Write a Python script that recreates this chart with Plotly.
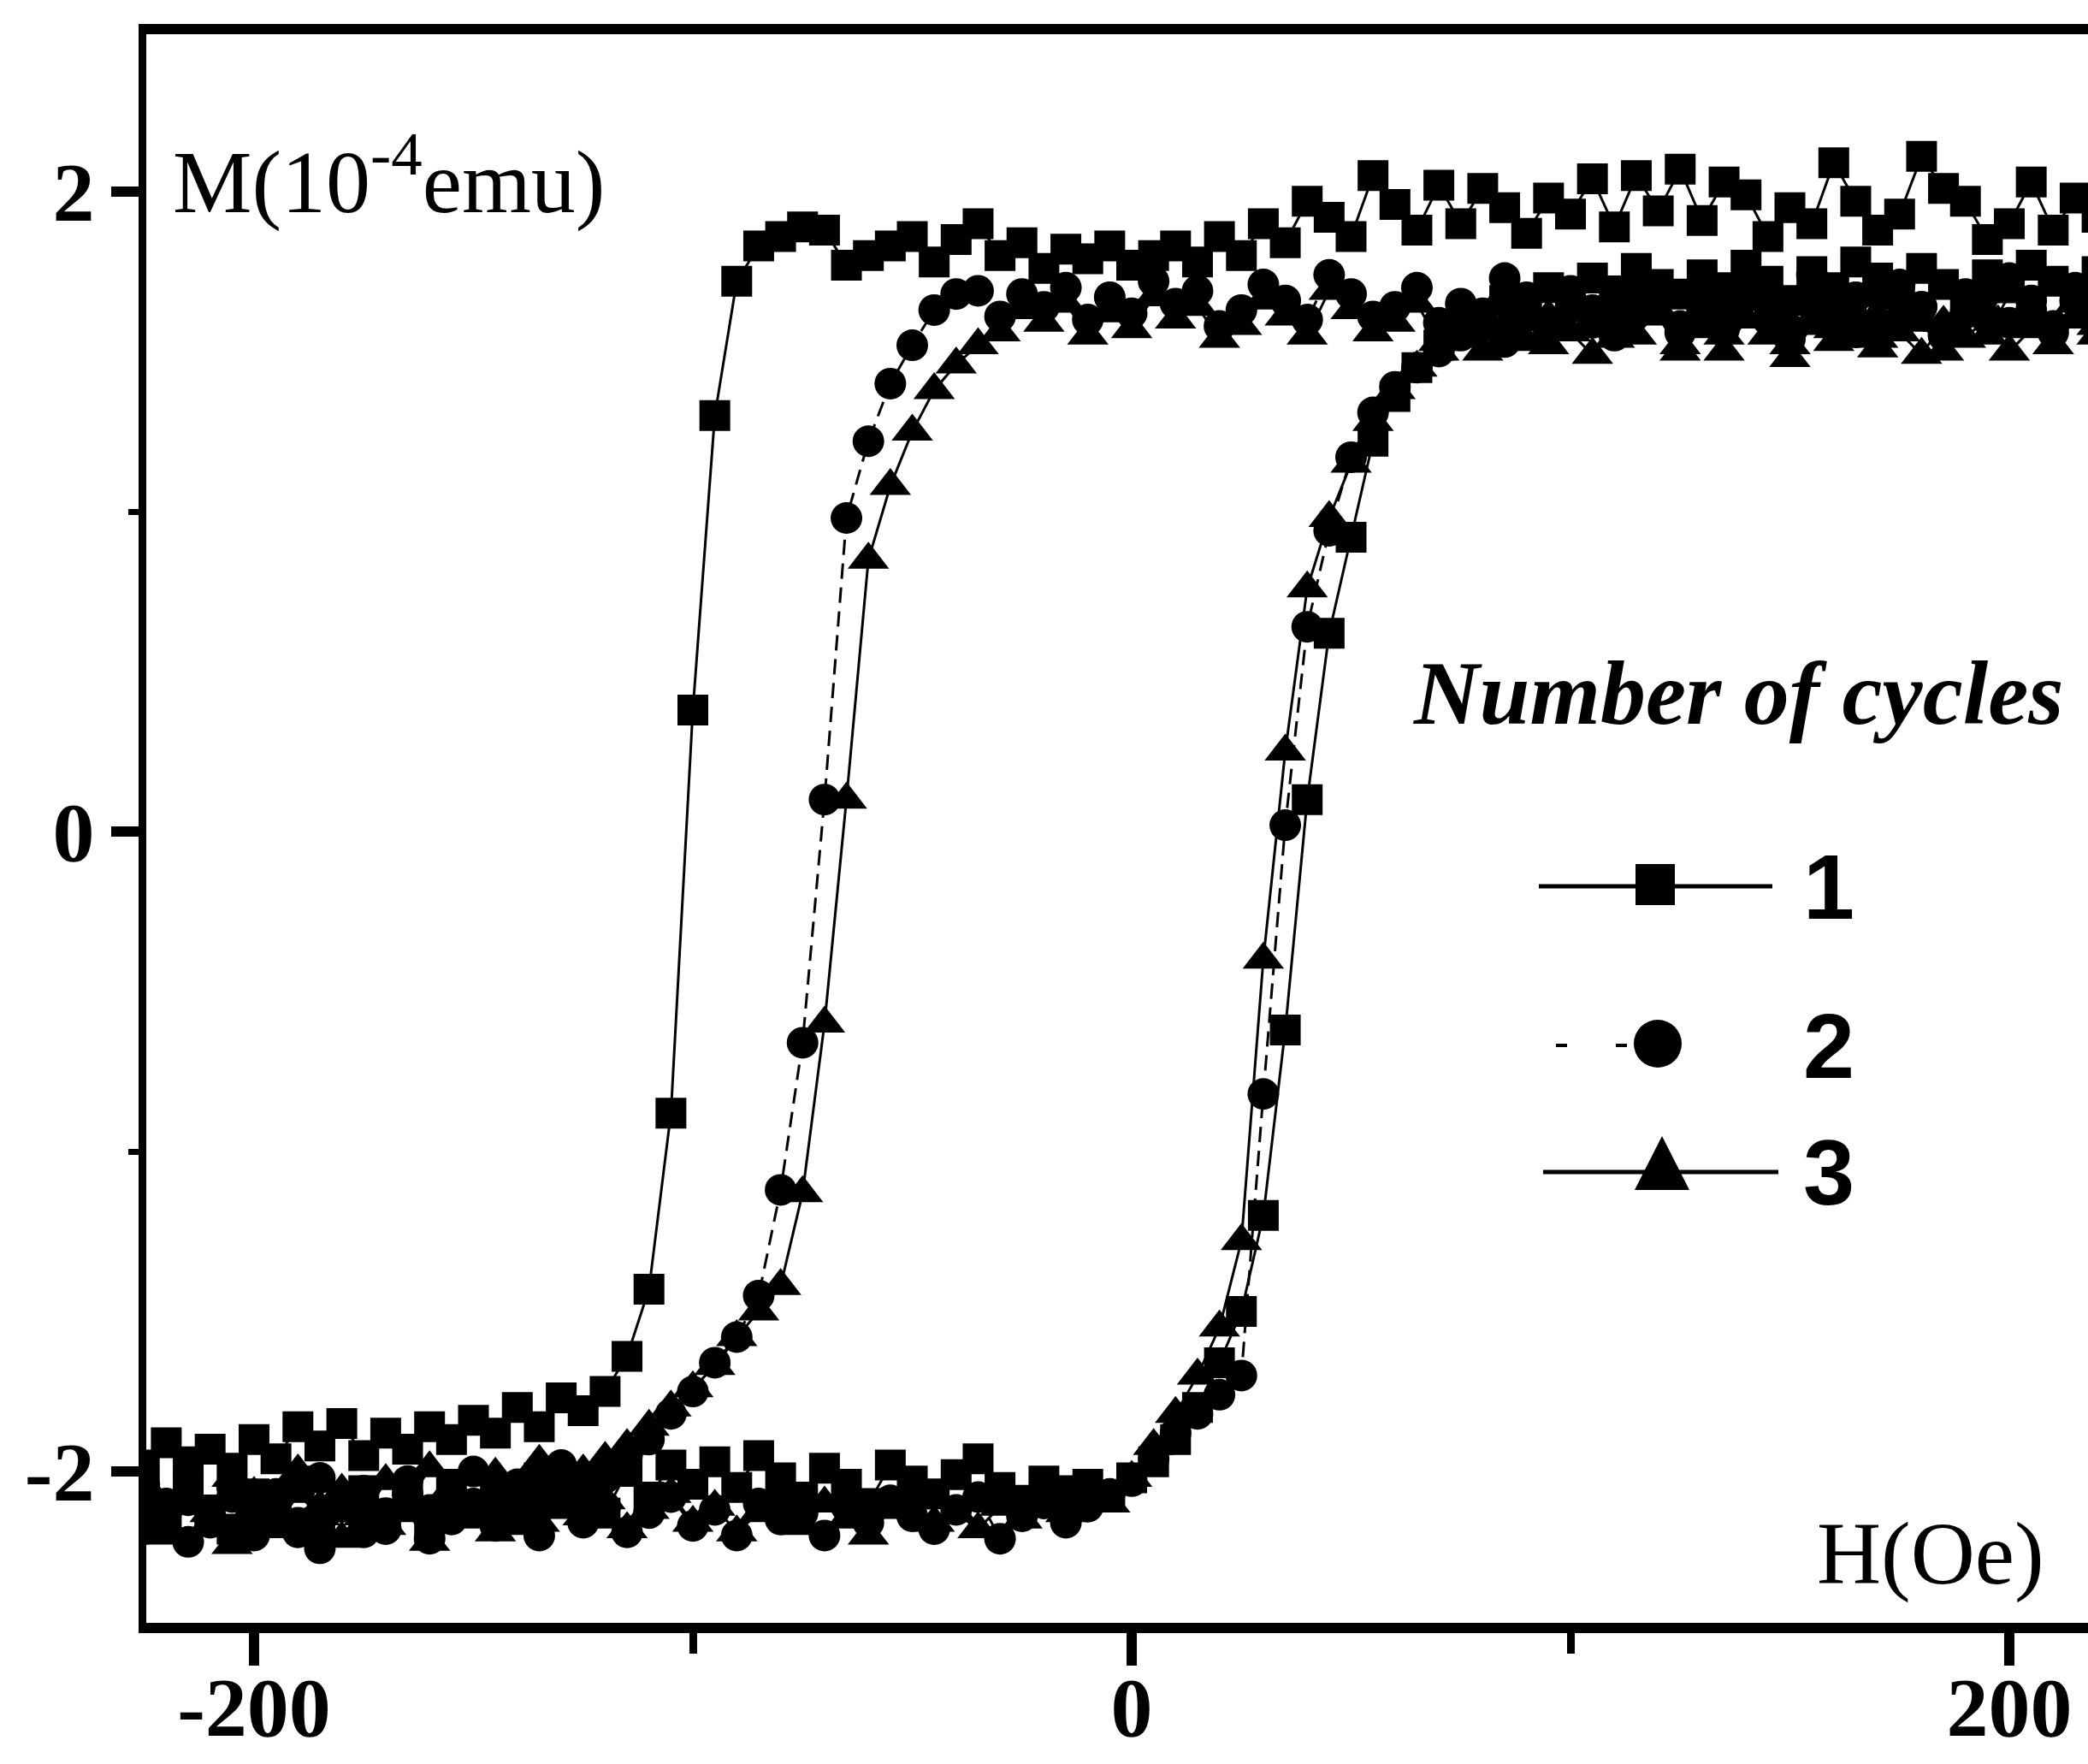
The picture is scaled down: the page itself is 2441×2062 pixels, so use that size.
import plotly.graph_objects as go

# Field sweep (Oe): descending branch then ascending branch
H_down = [220, 215, 210, 205, 200, 195, 190, 185, 180, 175,
          170, 165, 160, 155, 150, 145, 140, 135, 130, 125,
          120, 115, 110, 105, 100, 95, 90, 85, 80, 75,
          70, 65, 60, 55, 50, 45, 40, 35, 30, 25,
          20, 15, 10, 5, 0, -5, -10, -15, -20, -25,
          -30, -35, -40, -45, -50, -55, -60, -65, -70, -75,
          -80, -85, -90, -95, -100, -105, -110, -115, -120, -125,
          -130, -135, -140, -145, -150, -155, -160, -165, -170, -175,
          -180, -185, -190, -195, -200, -205, -210, -215, -220, -225]
H_up = [-225, -220, -215, -210, -205, -200, -195, -190, -185, -180,
        -175, -170, -165, -160, -155, -150, -145, -140, -135, -130,
        -125, -120, -115, -110, -105, -100, -95, -90, -85, -80,
        -75, -70, -65, -60, -55, -50, -45, -40, -35, -30,
        -25, -20, -15, -10, -5, 0, 5, 10, 15, 20,
        25, 30, 35, 40, 45, 50, 55, 60, 65, 70,
        75, 80, 85, 90, 95, 100, 105, 110, 115, 120,
        125, 130, 135, 140, 145, 150, 155, 160, 165, 170,
        175, 180, 185, 190, 195, 200, 205, 210, 215, 220]

# Cycle 1 (squares)
M1_down = [1.92, 1.98, 1.88, 2.03, 1.90, 1.85, 1.97, 2.01, 2.11, 1.93,
           1.88, 1.97, 2.09, 1.90, 1.95, 1.86, 1.99, 2.03, 1.91, 2.07,
           1.94, 2.05, 1.89, 2.04, 1.93, 1.98, 1.87, 1.95, 2.01, 1.90,
           2.02, 1.88, 1.96, 2.05, 1.86, 1.92, 1.97, 1.84, 1.90, 1.80,
           1.86, 1.78, 1.83, 1.80, 1.77, 1.83, 1.79, 1.82, 1.76, 1.84,
           1.80, 1.90, 1.85, 1.78, 1.86, 1.83, 1.80, 1.77, 1.88, 1.89,
           1.86, 1.83, 1.72, 1.30, 0.38, -0.88, -1.43, -1.64, -1.75, -1.81,
           -1.77, -1.86, -1.80, -1.88, -1.84, -1.90, -1.86, -1.93, -1.88, -1.95,
           -1.85, -1.92, -1.86, -1.96, -1.90, -1.99, -1.93, -1.97, -1.91, -1.98]
M1_up = [-2.08, -2.15, -2.05, -2.12, -2.18, -2.07, -2.13, -2.03, -2.16, -2.10,
         -2.06, -2.14, -2.09, -2.17, -2.04, -2.11, -2.08, -2.15, -2.02, -2.10,
         -2.06, -2.13, -2.00, -2.08, -1.98, -2.04, -1.97, -2.05, -1.95, -2.02,
         -2.08, -1.99, -2.04, -2.10, -1.98, -2.03, -2.07, -2.01, -1.96, -2.05,
         -2.09, -2.03, -2.06, -2.04, -2.08, -2.02, -1.97, -1.90, -1.80, -1.66,
         -1.50, -1.20, -0.62, 0.10, 0.62, 0.92, 1.22, 1.36, 1.45, 1.52,
         1.58, 1.60, 1.66, 1.63, 1.70, 1.67, 1.73, 1.69, 1.76, 1.71,
         1.68, 1.74, 1.70, 1.77, 1.72, 1.66, 1.75, 1.70, 1.78, 1.73,
         1.69, 1.76, 1.71, 1.66, 1.74, 1.70, 1.77, 1.72, 1.68, 1.75]

# Cycle 2 (circles)
M2_down = [1.62, 1.70, 1.58, 1.66, 1.73, 1.60, 1.68, 1.55, 1.64, 1.71,
           1.59, 1.67, 1.62, 1.74, 1.57, 1.65, 1.70, 1.61, 1.68, 1.56,
           1.66, 1.72, 1.60, 1.63, 1.69, 1.58, 1.67, 1.73, 1.62, 1.65,
           1.59, 1.70, 1.64, 1.61, 1.68, 1.74, 1.60, 1.66, 1.71, 1.63,
           1.58, 1.69, 1.65, 1.72, 1.62, 1.67, 1.60, 1.70, 1.64, 1.68,
           1.61, 1.69, 1.68, 1.63, 1.52, 1.40, 1.22, 0.98, 0.10, -0.66,
           -1.12, -1.45, -1.58, -1.66, -1.75, -1.82, -1.90, -1.95, -2.02, -2.08,
           -1.98, -2.10, -2.04, -2.15, -2.00, -2.08, -2.12, -2.03, -2.18, -2.06,
           -2.11, -2.02, -2.19, -2.07, -2.14, -2.05, -2.16, -2.09, -2.13, -2.04]
M2_up = [-2.18, -2.10, -2.22, -2.14, -2.08, -2.20, -2.12, -2.16, -2.24, -2.11,
         -2.19, -2.13, -2.07, -2.21, -2.15, -2.10, -2.17, -2.12, -2.20, -2.09,
         -2.16, -2.11, -2.19, -2.13, -2.08, -2.17, -2.12, -2.20, -2.10, -2.15,
         -2.13, -2.20, -2.11, -2.16, -2.09, -2.14, -2.18, -2.12, -2.08, -2.21,
         -2.14, -2.10, -2.16, -2.11, -2.07, -2.03, -1.96, -1.88, -1.82, -1.76,
         -1.70, -0.82, 0.02, 0.64, 0.94, 1.17, 1.31, 1.39, 1.45, 1.50,
         1.55, 1.58, 1.53, 1.61, 1.57, 1.64, 1.59, 1.55, 1.62, 1.66,
         1.58, 1.63, 1.57, 1.67, 1.60, 1.54, 1.65, 1.61, 1.56, 1.68,
         1.60, 1.64, 1.57, 1.62, 1.69, 1.59, 1.63, 1.56, 1.66, 1.61]

# Cycle 3 (triangles)
M3_down = [1.58, 1.65, 1.52, 1.61, 1.68, 1.55, 1.63, 1.50, 1.59, 1.66,
           1.54, 1.62, 1.57, 1.69, 1.52, 1.60, 1.66, 1.55, 1.63, 1.50,
           1.61, 1.67, 1.54, 1.58, 1.64, 1.52, 1.62, 1.68, 1.56, 1.60,
           1.53, 1.65, 1.59, 1.56, 1.63, 1.69, 1.55, 1.61, 1.66, 1.58,
           1.54, 1.64, 1.60, 1.67, 1.57, 1.62, 1.55, 1.65, 1.59, 1.63,
           1.56, 1.52, 1.46, 1.38, 1.25, 1.08, 0.85, 0.10, -0.60, -1.13,
           -1.42, -1.50, -1.58, -1.67, -1.74, -1.80, -1.86, -1.92, -1.96, -2.00,
           -2.04, -1.97, -2.08, -2.01, -2.12, -2.05, -1.99, -2.10, -2.03, -2.14,
           -2.06, -2.11, -2.00, -2.15, -2.07, -2.02, -2.13, -2.08, -2.17, -2.04]
M3_up = [-2.12, -2.20, -2.09, -2.16, -2.23, -2.11, -2.18, -2.07, -2.14, -2.21,
         -2.10, -2.17, -2.13, -2.22, -2.08, -2.15, -2.19, -2.11, -2.16, -2.06,
         -2.14, -2.09, -2.18, -2.12, -2.07, -2.16, -2.11, -2.19, -2.13, -2.08,
         -2.17, -2.10, -2.15, -2.20, -2.12, -2.09, -2.16, -2.13, -2.18, -2.11,
         -2.15, -2.08, -2.13, -2.06, -2.10, -2.02, -1.92, -1.82, -1.70, -1.55,
         -1.28, -0.40, 0.25, 0.76, 0.98, 1.15, 1.28, 1.38, 1.45, 1.50,
         1.54, 1.50, 1.58, 1.53, 1.61, 1.56, 1.49, 1.59, 1.55, 1.63,
         1.52, 1.57, 1.50, 1.60, 1.55, 1.48, 1.58, 1.53, 1.62, 1.51,
         1.56, 1.49, 1.59, 1.54, 1.61, 1.50, 1.57, 1.52, 1.60, 1.55]

cycle_names = ["1", "2", "3"]
x_ticks = [-200, 0, 200]
x_ticktext = ["-200", "0", "200"]
y_ticks = [-2, 0, 2]
y_ticktext = ["-2", "0", "2"]

series = [
    (cycle_names[0], M1_down, M1_up, "square", 36, "solid"),
    (cycle_names[1], M2_down, M2_up, "circle", 37, "18px,10px"),
    (cycle_names[2], M3_down, M3_up, "triangle-up", 42, "solid"),
]

fig = go.Figure()
for name, md, mu, sym, sz, dash in series:
    fig.add_trace(go.Scatter(
        x=H_down + H_up, y=md + mu, name=name, mode="lines+markers",
        line=dict(color="black", width=3, dash=dash),
        marker=dict(symbol=sym, size=sz, color="black", line=dict(width=0)),
    ))

tickfont = dict(family="Liberation Serif", size=98, color="black", weight="bold")
fig.update_xaxes(
    range=[-224.56, 217.93], tickmode="array", tickvals=x_ticks, ticktext=x_ticktext,
    ticks="outside", ticklen=38, tickwidth=12, tickcolor="black", ticklabelstandoff=-36,
    showline=True, linewidth=12, linecolor="black", mirror=True, automargin=False,
    showgrid=False, zeroline=False, tickfont=tickfont,
    minor=dict(tickmode="array", tickvals=[-100, 100], ticks="outside",
               ticklen=24, tickwidth=9, tickcolor="black", showgrid=False),
)
fig.update_yaxes(
    range=[-2.473, 2.492], tickmode="array", tickvals=y_ticks, ticktext=y_ticktext,
    ticks="outside", ticklen=32, tickwidth=12, tickcolor="black",
    showline=True, linewidth=9, linecolor="black", mirror=False, automargin=False,
    showgrid=False, zeroline=False, tickfont=tickfont,
    minor=dict(tickmode="array", tickvals=[-1, 1], ticks="outside",
               ticklen=12, tickwidth=7, tickcolor="black", showgrid=False),
)

L, T, W, Hh = 171, 40, 2270, 1857
def px(x):
    return (x - L) / W
def py(y):
    return (T + Hh - y) / Hh

legend_rows = [1036, 1222, 1370]

annotations = [
    dict(text="M(10<sup>-4</sup>emu)", x=px(200), y=py(205), xanchor="left", yanchor="middle",
         font=dict(family="Liberation Serif", size=104, color="black")),
    dict(text="H(Oe)", x=px(2392), y=py(1816), xanchor="right", yanchor="middle",
         font=dict(family="Liberation Serif", size=104, color="black")),
    dict(text="Number of cycles", x=px(1650), y=py(810), xanchor="left", yanchor="middle",
         font=dict(family="Liberation Serif", size=106, color="black", weight="bold", style="italic")),
]
for lab, yy in zip(cycle_names, legend_rows):
    annotations.append(dict(text=lab, x=px(2106), y=py(yy), xanchor="left", yanchor="middle",
                            font=dict(family="Liberation Sans", size=108, color="black", weight="bold")))
for a in annotations:
    a.update(xref="paper", yref="paper", showarrow=False)

r1, r2, r3 = legend_rows
shapes = [
    dict(type="line", x0=px(1799), x1=px(2072), y0=py(r1), y1=py(r1),
         line=dict(color="black", width=5)),
    dict(type="rect", xsizemode="pixel", ysizemode="pixel", xanchor=px(1935), yanchor=py(r1 - 2),
         x0=-23, x1=23, y0=-24, y1=24, fillcolor="black", line=dict(width=0)),
    dict(type="line", x0=px(1819), x1=px(1905), y0=py(r2), y1=py(r2),
         line=dict(color="black", width=4, dash="13px,57px")),
    dict(type="circle", xsizemode="pixel", ysizemode="pixel", xanchor=px(1938), yanchor=py(r2 - 2),
         x0=-28, x1=28, y0=-28, y1=28, fillcolor="black", line=dict(width=0)),
    dict(type="line", x0=px(1804), x1=px(2079), y0=py(r3), y1=py(r3),
         line=dict(color="black", width=5)),
    dict(type="path", xsizemode="pixel", ysizemode="pixel", xanchor=px(1943), yanchor=py(r3),
         path="M-32,-21 L32,-21 L0,42 Z", fillcolor="black", line=dict(width=0)),
]
for s in shapes:
    s.update(xref="paper", yref="paper")

fig.update_layout(
    width=2441, height=2062, margin=dict(l=L, r=0, t=T, b=2062 - T - Hh, autoexpand=False),
    paper_bgcolor="white", plot_bgcolor="white", showlegend=False,
    annotations=annotations, shapes=shapes,
)

fig.write_html("out.html")
